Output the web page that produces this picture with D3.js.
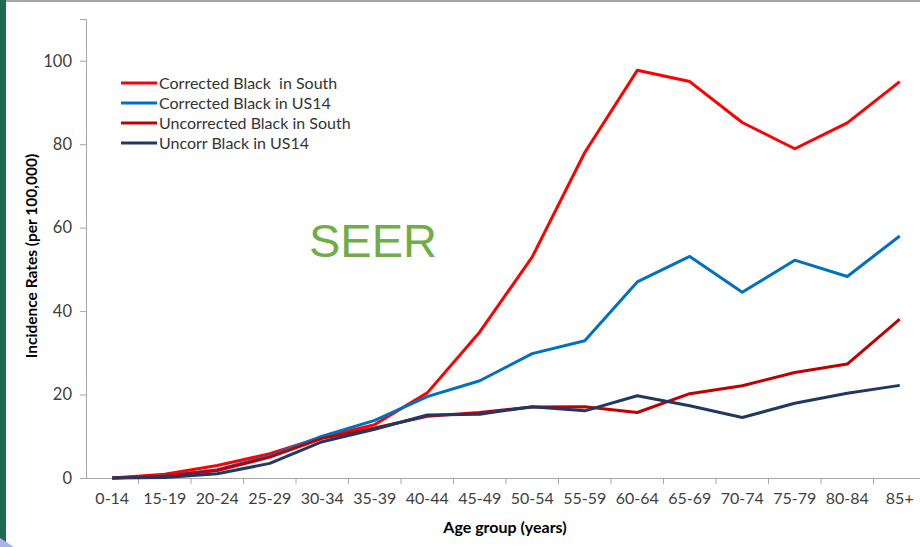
<!DOCTYPE html>
<html><head><meta charset="utf-8">
<script src="https://cdn.jsdelivr.net/npm/d3@7"></script>
<style>html,body{margin:0;padding:0;background:#fff;overflow:hidden}</style>
</head><body>
<svg id="c" width="920" height="547"></svg>
<script>
const categories = ["0-14","15-19","20-24","25-29","30-34","35-39","40-44","45-49","50-54","55-59","60-64","65-69","70-74","75-79","80-84","85+"];
const correctedSouth = [0,0.9,3.0,5.8,9.8,12.8,20.4,35,53,78,97.7,95,85.2,78.9,85.1,95];
const correctedUS14 = [0,0.5,2.0,5.3,10,13.8,19.5,23.3,29.8,32.9,47,53.1,44.5,52.2,48.3,58];
const uncorrectedSouth = [0,0.4,1.8,5.0,9.5,12.0,14.8,15.7,17.0,17.1,15.7,20.2,22.1,25.3,27.3,38.1];
const uncorrUS14 = [0,0.1,1.0,3.5,8.7,11.7,15.1,15.3,17.1,16.1,19.7,17.3,14.5,17.9,20.3,22.2];
const seriesNames = ["Corrected Black  in South","Corrected Black in US14","Uncorrected Black in South","Uncorr Black in US14"];
const seriesColors = ["#ff0000","#0070c0","#c00000","#1f3864"];
const yTicks = [0,20,40,60,80,100];

const svg = d3.select("#c");
const allSeries = [correctedSouth, correctedUS14, uncorrectedSouth, uncorrUS14];
const FONT = "Lato, 'Open Sans', sans-serif";

// decorations
svg.append("rect").attr("x",0).attr("y",0).attr("width",920).attr("height",2).attr("fill","#a6a6a6");
svg.append("rect").attr("x",0).attr("y",0).attr("width",6).attr("height",547).attr("fill","#1f6a53");
svg.append("path").attr("d","M0,538 L14,547 L0,547 Z").attr("fill","#aab4e0");

const x = d3.scaleBand().domain(categories).range([86, 926]);
const y = d3.scaleLinear().domain([0,110]).range([478, 19]);

// y axis
const yAxis = svg.append("g").attr("transform","translate(86,0)")
  .call(d3.axisLeft(y).tickValues(yTicks).tickSize(6).tickPadding(8));
yAxis.select(".domain").attr("stroke","#a6a6a6");
yAxis.selectAll(".tick line").attr("stroke","#a6a6a6");
yAxis.selectAll(".tick text").attr("font-family",FONT).attr("font-size",16.5).attr("fill","#404040");

// x axis
const xAxis = svg.append("g").attr("transform","translate(0,478)")
  .call(d3.axisBottom(x).tickSize(0).tickPadding(15));
xAxis.select(".domain").attr("stroke","#a6a6a6");
xAxis.selectAll(".tick text").attr("font-family",FONT).attr("font-size",16).attr("fill","#404040");
xAxis.selectAll(".sep").data(categories.slice(1)).enter().append("line")
  .attr("x1",d=>x(d)).attr("x2",d=>x(d)).attr("y1",0).attr("y2",6).attr("stroke","#a6a6a6");

// axis titles
svg.append("text").attr("x",505).attr("y",533).attr("text-anchor","middle")
  .attr("font-family",FONT).attr("font-weight","bold").attr("font-size",16).attr("fill","#000")
  .text("Age group (years)");
svg.append("text").attr("transform","translate(37,256) rotate(-90)").attr("text-anchor","middle")
  .attr("font-family",FONT).attr("font-weight","bold").attr("font-size",15.5).attr("fill","#000")
  .text("Incidence Rates (per 100,000)");

// lines
const line = d3.line().x((d,i)=>x(categories[i]) + x.bandwidth()/2).y(d=>y(d));
allSeries.forEach((s,k)=>{
  svg.append("path").datum(s).attr("d",line).attr("fill","none")
    .attr("stroke",seriesColors[k]).attr("stroke-width",3).attr("stroke-linejoin","round");
});

// SEER label
svg.append("text").attr("x",309).attr("y",257).attr("font-family","'Liberation Sans', Arial, sans-serif")
  .attr("font-size",47).attr("fill","#70ad47").text("SEER");

// legend
const lg = svg.append("g");
seriesNames.forEach((n,k)=>{
  const yy = 83 + k*20;
  lg.append("line").attr("x1",121).attr("x2",157).attr("y1",yy).attr("y2",yy)
    .attr("stroke",seriesColors[k]).attr("stroke-width",3);
  lg.append("text").attr("x",159).attr("y",yy+5.5).attr("font-family",FONT)
    .attr("font-size",16).attr("fill","#333").style("white-space","pre").text(n);
});
</script>
</body></html>
